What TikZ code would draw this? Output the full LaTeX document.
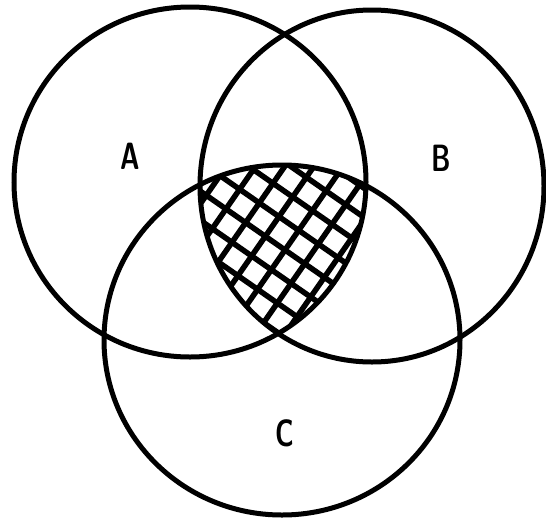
\documentclass[tikz,border=0pt]{standalone}
\usetikzlibrary{calc}
\begin{document}
\begin{tikzpicture}[x=1pt,y=-1pt,
  ring/.style={line width=5pt},
  hatch/.style={line width=5.5pt},
  lab/.style={font=\fontsize{38}{38}\selectfont\sffamily\bfseries, xscale=0.7, inner sep=0pt}]
\useasboundingbox (0,0) rectangle (546,520);
% hatching in the triple intersection
\begin{scope}
  \clip (190,182) ellipse [x radius=176pt, y radius=175pt];
  \clip (372,186) ellipse [x radius=172pt, y radius=176pt];
  \clip (282,340) ellipse [x radius=178pt, y radius=175pt];
  \foreach \k in {-8,...,8} {
    \draw[hatch] ($(285,250)+\k*24*(0.57,-0.82)+(-0.82*180,-0.57*180)$) -- ++(0.82*360,0.57*360);
    \draw[hatch] ($(285,250)+\k*24*(0.82,0.57)+(-0.57*180,0.82*180)$) -- ++(0.57*360,-0.82*360);
  }
\end{scope}
\draw[ring] (190,182) ellipse [x radius=176pt, y radius=175pt];
\draw[ring] (372,186) ellipse [x radius=172pt, y radius=176pt];
\draw[ring] (282,340) ellipse [x radius=178pt, y radius=175pt];
\node[lab] (la) at (130,156) {A};
\node[lab] (lb) at (441,158) {B};
\node[lab] (lc) at (285,433) {C};
\end{tikzpicture}
\end{document}
